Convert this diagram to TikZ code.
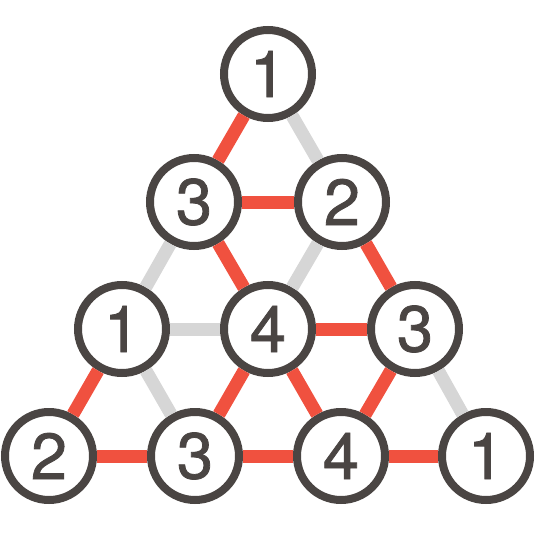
\documentclass[tikz,border=0pt]{standalone}
\usepackage{fontspec}
\newfontfamily\digitfont{TeX Gyre Heros}[FakeBold=1.2]
\definecolor{ring}{HTML}{4A4543}
\definecolor{redline}{HTML}{F0513F}
\definecolor{grayline}{HTML}{D6D6D6}
\tikzset{
  num/.style={circle, draw=ring, line width=8pt, fill=white, minimum size=88pt, inner sep=0pt, text=ring, font=\digitfont\fontsize{65}{65}\selectfont},
  redge/.style={draw=redline, line width=13pt},
  gedge/.style={draw=grayline, line width=13pt}
}
\begin{document}
\begin{tikzpicture}[x=1pt,y=-1pt]
\useasboundingbox (0,0) rectangle (538,538);
\node[num] (a) at (268,74) {1};
\node[num] (b1) at (194,202) {3};
\node[num] (b2) at (342,202) {2};
\node[num] (c1) at (122,329) {1};
\node[num] (c2) at (268,329) {4};
\node[num] (c3) at (415,329) {3};
\node[num] (d1) at (49,456) {2};
\node[num] (d2) at (195,456) {3};
\node[num] (d3) at (341,456) {4};
\node[num] (d4) at (486,456) {1};
\draw[redge] (a) -- (b1);
\draw[gedge] (a) -- (b2);
\draw[redge] (b1) -- (b2);
\draw[gedge] (b1) -- (c1);
\draw[redge] (b1) -- (c2);
\draw[gedge] (b2) -- (c2);
\draw[redge] (b2) -- (c3);
\draw[gedge] (c1) -- (c2);
\draw[redge] (c2) -- (c3);
\draw[redge] (c1) -- (d1);
\draw[gedge] (c1) -- (d2);
\draw[redge] (c2) -- (d2);
\draw[redge] (c2) -- (d3);
\draw[redge] (c3) -- (d3);
\draw[gedge] (c3) -- (d4);
\draw[redge] (d1) -- (d2);
\draw[redge] (d2) -- (d3);
\draw[redge] (d3) -- (d4);
\end{tikzpicture}
\end{document}
